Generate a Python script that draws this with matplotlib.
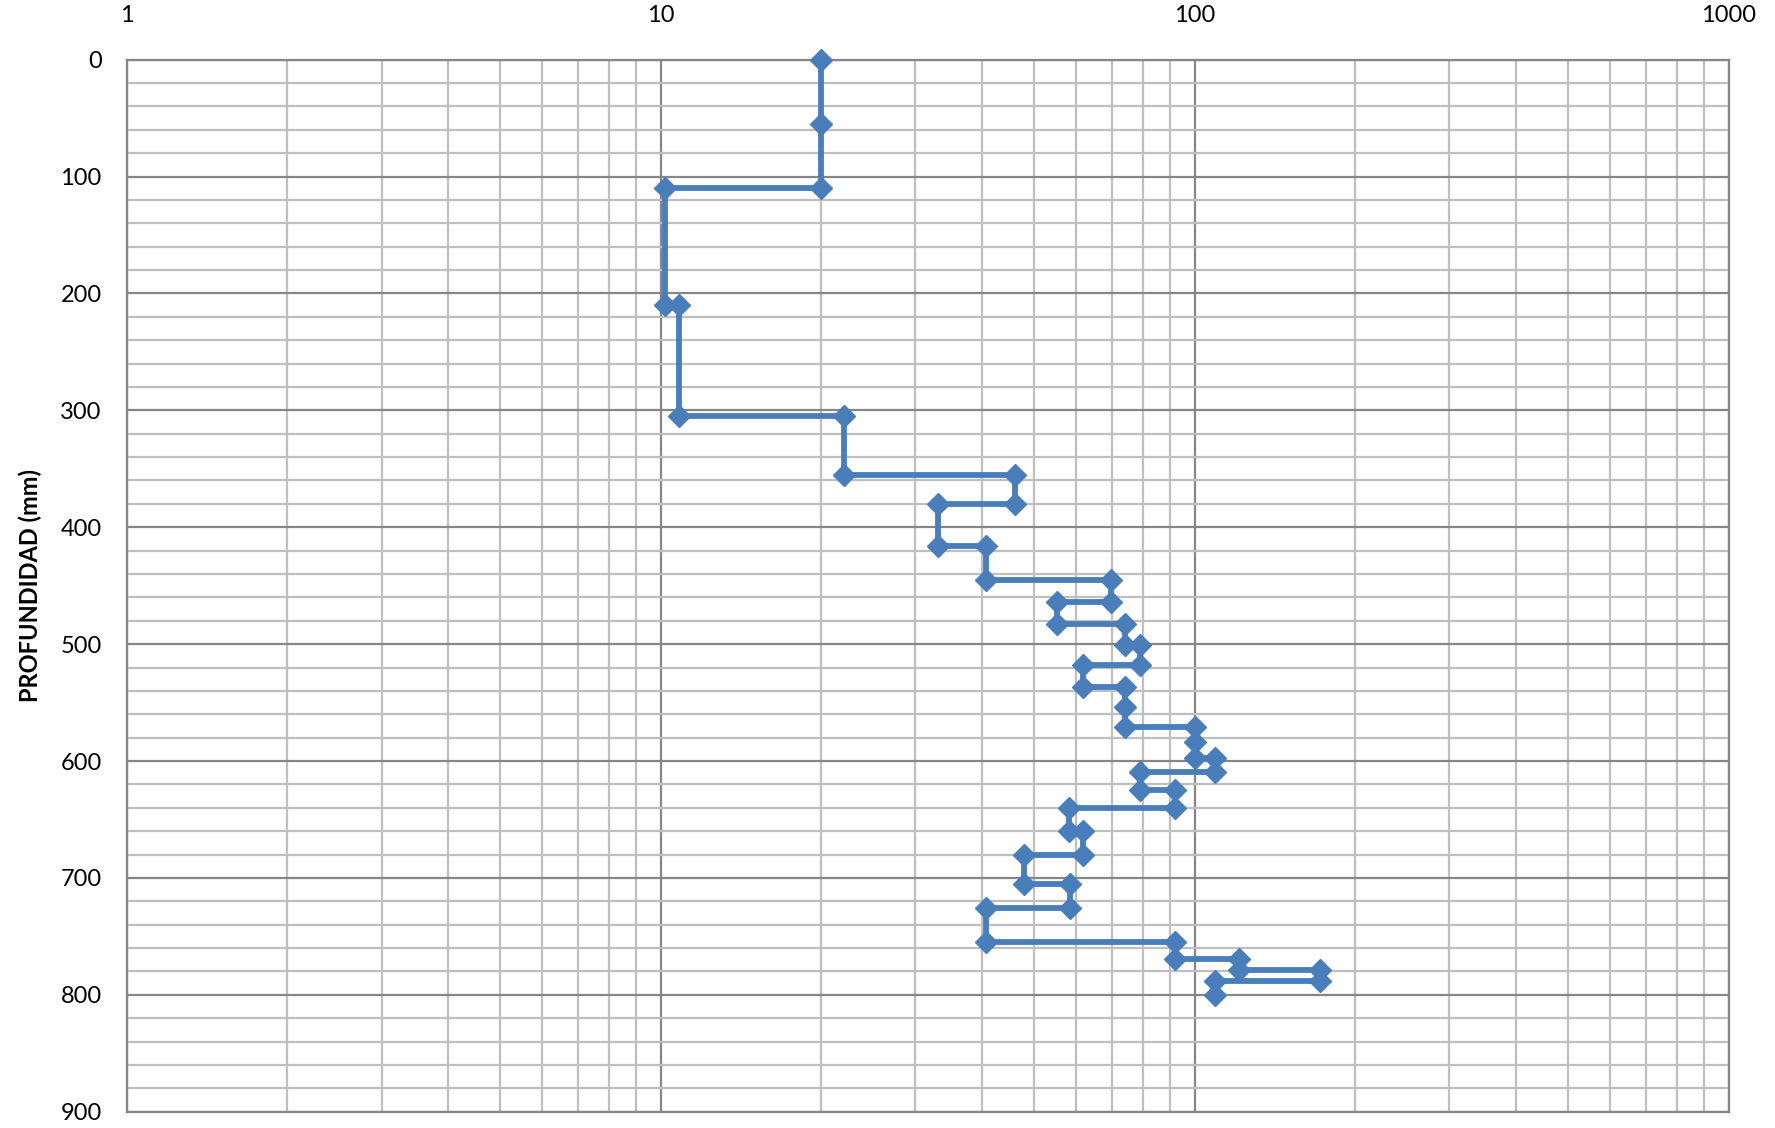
import matplotlib
matplotlib.use("Agg")
import matplotlib.pyplot as plt
from matplotlib.ticker import FixedLocator, NullFormatter, FixedFormatter, LogLocator

# Penetration profile: value (log scale) against depth in mm
valores = [20, 20, 20, 10.2, 10.2, 10.8, 10.8, 22, 22, 46, 46, 33, 33, 40.6, 40.6,
           69.6, 69.6, 55.3, 55.3, 74, 74, 79, 79, 61.7, 61.7, 74, 74, 74, 100, 100,
           100, 109, 109, 79, 79, 92, 92, 58.2, 58.2, 61.7, 61.7, 48, 48, 58.5, 58.5,
           40.6, 40.6, 92, 92, 121, 121, 172, 172, 109, 109]
profundidad = [0, 55, 110, 110, 210, 210, 305, 305, 355, 355, 380, 380, 416, 416, 445,
               445, 464, 464, 483, 483, 501, 501, 518, 518, 537, 537, 554, 571, 571, 584,
               597, 597, 609, 609, 625, 625, 640, 640, 660, 660, 680, 680, 705, 705, 726,
               726, 755, 755, 769, 769, 779, 779, 788, 788, 800]

x_ticks = [1, 10, 100, 1000]
x_labels = ["1", "10", "100", "1000"]
y_ticks = [0, 100, 200, 300, 400, 500, 600, 700, 800, 900]
y_minor = list(range(0, 901, 20))

plt.rcParams['font.family'] = ['Lato', 'DejaVu Sans']

fig = plt.figure(figsize=(17.75, 11.28), dpi=100)
ax = fig.add_axes([0.0714, 0.01445, 0.9025, 0.93265])

ax.set_xscale('log')
ax.set_xlim(1, 1000)
ax.set_ylim(900, 0)

ax.plot(valores, profundidad, color='#4A7EBB', linewidth=4.2, marker='D',
        markersize=11, markerfacecolor='#4A7EBB', markeredgecolor='#4A7EBB',
        zorder=3, clip_on=False)

ax.xaxis.set_major_locator(FixedLocator(x_ticks))
ax.xaxis.set_major_formatter(FixedFormatter(x_labels))
ax.xaxis.set_minor_locator(LogLocator(base=10, subs=range(2, 10)))
ax.xaxis.set_minor_formatter(NullFormatter())
ax.yaxis.set_major_locator(FixedLocator(y_ticks))
ax.yaxis.set_minor_locator(FixedLocator(y_minor))

ax.xaxis.tick_top()
ax.tick_params(axis='both', which='both', length=0)
ax.tick_params(axis='x', which='major', pad=24, labelsize=17)
ax.tick_params(axis='y', which='major', pad=18, labelsize=17)

ax.grid(True, which='minor', color='#BFBFBF', linewidth=1.6, zorder=0)
ax.grid(True, which='major', color='#868686', linewidth=1.6, zorder=1)
ax.set_axisbelow(True)

for s in ax.spines.values():
    s.set_color('#868686')
    s.set_linewidth(1.6)

ax.set_ylabel('PROFUNDIDAD (mm)', fontsize=17, fontweight='bold', labelpad=13)

fig.savefig('out.png', dpi=100, facecolor='white')
